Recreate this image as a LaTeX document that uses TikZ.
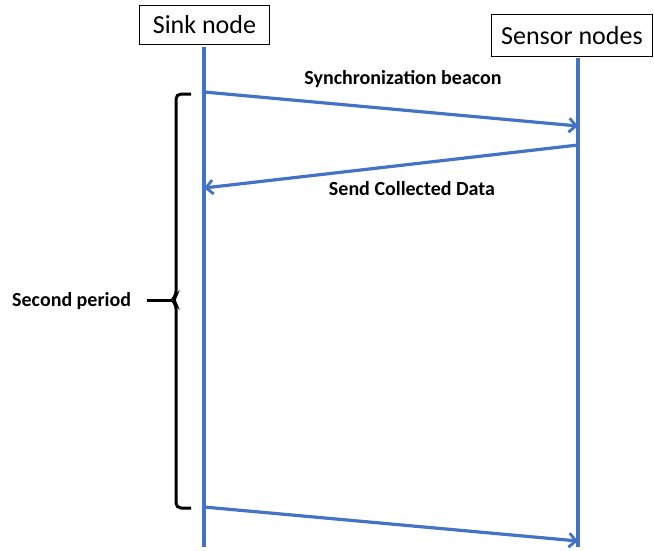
\documentclass[tikz,border=0pt]{standalone}
\usepackage{fontspec}
\setmainfont{Carlito}
\usetikzlibrary{arrows.meta}
\definecolor{msgblue}{HTML}{4472C4}
\begin{document}
\begin{tikzpicture}[x=1pt,y=-1pt,
  actor/.style={draw=black,line width=0.9pt,fill=white,font=\fontsize{26}{30}\selectfont,inner sep=0pt,anchor=north west},
  lifeline/.style={draw=msgblue,line width=3.2pt},
  msg/.style={draw=msgblue,line width=3.2pt,-{Straight Barb[length=7pt,width=14pt,line width=2.8pt]}},
  msglabel/.style={font=\fontsize{20}{24}\selectfont\bfseries,inner sep=0pt},
  bracket/.style={draw=black,line width=3pt}]
\useasboundingbox (0,0) rectangle (654,550);

% participants
\node[actor,minimum width=130pt,minimum height=39pt] (sink) at (139,5) {Sink node};
\node[actor,minimum width=161pt,minimum height=42pt] (sensor) at (491,14) {Sensor nodes};

% lifelines
\coordinate (sinkend) at (204,547);
\coordinate (sensorend) at (578,547);
\draw[lifeline] (204,47) -- (sinkend);
\draw[lifeline] (578,58) -- (sensorend);

% messages
\coordinate (m1s) at (204,92);
\coordinate (m1e) at (578,126);
\coordinate (m2s) at (578,145);
\coordinate (m2e) at (204,188);
\coordinate (m3s) at (204,507);
\coordinate (m3e) at (578,541);
\draw[msg] (m1s) -- (m1e);
\draw[msg] (m2s) -- (m2e);
\draw[msg] (m3s) -- (m3e);
\node[msglabel] (l1) at (403,79) {Synchronization beacon};
\node[msglabel] (l2) at (412,189) {Send Collected Data};

% period bracket with its middle tip
\draw[bracket,rounded corners=5pt] (191,94) -- (176,94) -- (176,296) -- (172,300) -- (176,304) -- (176,508) -- (191,508);
\coordinate (tip) at (172,300);
\coordinate (dashstart) at (147,300);
\draw[bracket] (dashstart) -- (tip);
\node[msglabel,anchor=west] (period) at (12,301) {Second period};
\end{tikzpicture}
\end{document}
